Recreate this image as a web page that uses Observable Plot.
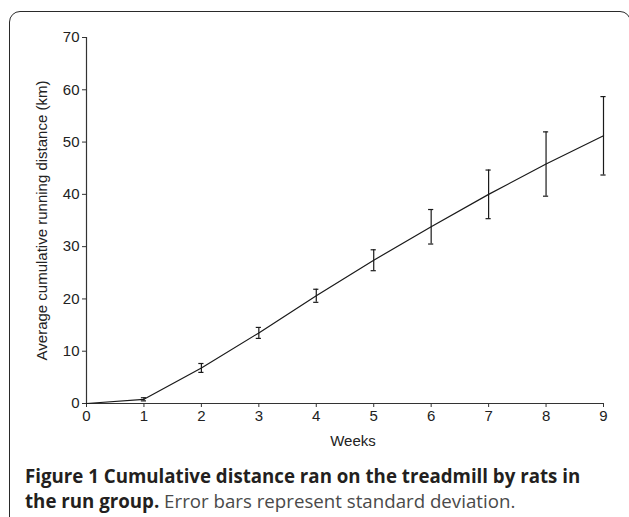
<!DOCTYPE html>
<html>
<head>
<meta charset="utf-8">
<script src="https://cdn.jsdelivr.net/npm/d3@7"></script>
<script src="https://cdn.jsdelivr.net/npm/@observablehq/plot@0.6"></script>
<style>
  html, body { margin: 0; padding: 0; background: #fff; }
  body { width: 629px; height: 517px; overflow: hidden; position: relative; }
  #frame { position: absolute; left: 9px; top: 11px; width: 622px; height: 560px;
           border: 1.6px solid #2a2a2a; border-radius: 11px; box-sizing: border-box; }
  #chart { position: absolute; left: 0; top: 0; }
  #caption { position: absolute; left: 25px; top: 463px; font-family: "Open Sans", Lato, sans-serif;
             font-size: 18.7px; line-height: 25px; color: #231f20; white-space: nowrap; }
  #caption b { font-weight: 700; }
  #caption .rest { color: #4a4a4a; font-weight: 400; }
</style>
</head>
<body>
<div id="frame"></div>
<div id="chart"></div>
<div id="caption"><b>Figure 1 Cumulative distance ran on the treadmill by rats in</b><br><b>the run group.</b> <span class="rest">Error bars represent standard deviation.</span></div>
<script>
const weeks = [0, 1, 2, 3, 4, 5, 6, 7, 8, 9];
const means = [0, 0.8, 6.8, 13.5, 20.6, 27.4, 33.8, 40.0, 45.8, 51.2];
const sds   = [0, 0.3, 0.85, 1.05, 1.25, 2.0, 3.3, 4.65, 6.15, 7.5];
const yTicks = [0, 10, 20, 30, 40, 50, 60, 70];
const xLabel = "Weeks";
const yLabel = "Average cumulative running distance (km)";

const data = weeks.map((w, i) => ({week: w, mean: means[i], sd: sds[i]}));
const bars = data.filter(d => d.sd > 0);
const capHalf = 0.045;

const ink = "#1a1a1a";
const chart = Plot.plot({
  width: 629,
  height: 455,
  marginLeft: 86,
  marginRight: 26,
  marginTop: 37,
  marginBottom: 52,
  style: {fontFamily: "'Liberation Sans', Arial, sans-serif", fontSize: "15px", color: "#222", background: "transparent"},
  x: {domain: [0, 9]},
  y: {domain: [0, 70]},
  marks: [
    Plot.axisX({ticks: weeks, tickSize: 4, tickPadding: 3, tickFormat: d => String(d), fontSize: 15,
                label: null, stroke: "#333"}),
    Plot.text([xLabel], {frameAnchor: "bottom", dx: 8, dy: 38, lineAnchor: "middle", fontSize: 15, fill: "#222"}),
    Plot.axisY({ticks: yTicks, tickSize: 4, tickPadding: 3, tickFormat: d => String(d), fontSize: 15,
                label: yLabel, labelAnchor: "center", labelArrow: "none", labelOffset: 50, stroke: "#333"}),
    Plot.ruleX([0], {stroke: "#333", strokeWidth: 1.2}),
    Plot.ruleY([0], {stroke: "#333", strokeWidth: 1.2}),
    Plot.line(data, {x: "week", y: "mean", stroke: ink, strokeWidth: 1.2}),
    Plot.ruleX(bars, {x: "week", y1: d => d.mean - d.sd, y2: d => d.mean + d.sd, stroke: ink, strokeWidth: 1.2}),
    Plot.ruleY(bars, {y: d => d.mean - d.sd, x1: d => d.week - capHalf, x2: d => d.week + capHalf, stroke: ink, strokeWidth: 1.2}),
    Plot.ruleY(bars, {y: d => d.mean + d.sd, x1: d => d.week - capHalf, x2: d => d.week + capHalf, stroke: ink, strokeWidth: 1.2})
  ]
});
document.getElementById("chart").appendChild(chart);
</script>
</body>
</html>
